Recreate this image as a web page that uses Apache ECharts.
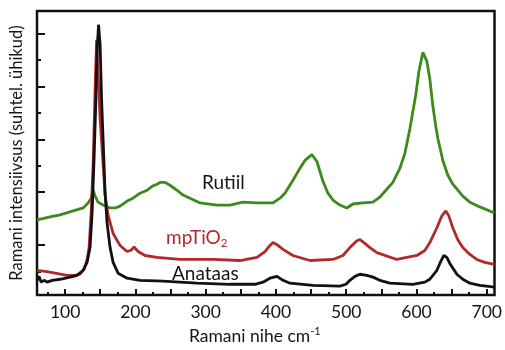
<!DOCTYPE html>
<html>
<head>
<meta charset="utf-8">
<script src="https://cdn.jsdelivr.net/npm/echarts@6/dist/echarts.min.js"></script>
<style>html,body{margin:0;padding:0;background:#fff}#c{width:505px;height:350px}</style>
</head>
<body>
<div id="c"></div>
<script>
// Ramani nihe (cm-1), intensity (relative units)
const anataas = [[60,0.66],[63,0.81],[65.9,0.59],[70.1,0.66],[74.4,0.59],[81.5,0.66],[92.9,0.70],[107.1,0.78],[117.1,0.85],[125.6,1.04],[131.3,1.34],[135.5,1.90],[138.4,3.21],[141.2,5.27],[143.4,7.15],[145.5,9.40],[147.6,10.34],[149.8,9.59],[151.9,7.52],[154,6.03],[156.9,3.96],[159.7,2.84],[164,1.90],[168.3,1.34],[175.4,0.93],[188.2,0.74],[206.6,0.66],[239.3,0.63],[287.7,0.55],[334.6,0.51],[370.2,0.51],[381.5,0.59],[391.5,0.74],[401.5,0.81],[410,0.66],[420,0.55],[452.6,0.47],[491,0.44],[499.6,0.51],[505.2,0.66],[512.4,0.81],[519.5,0.89],[529.4,0.85],[538,0.78],[547.9,0.66],[562.1,0.55],[594.8,0.51],[611.9,0.59],[619,0.70],[629,1.04],[634.6,1.38],[638.9,1.60],[643.2,1.53],[647.4,1.30],[657.4,0.89],[665.9,0.70],[675.9,0.55],[690.1,0.47],[711,0.40]];
const mpTiO2 = [[60,1.04],[71.6,1.00],[85.8,0.93],[102.8,0.85],[114.2,0.85],[121.3,0.89],[127,1.08],[131.3,1.45],[134.1,1.90],[137,3.21],[139.8,5.01],[142.7,7.90],[144.8,9.77],[146.9,8.39],[149.8,6.77],[152.6,5.65],[156.9,3.89],[161.1,3.14],[168.3,2.43],[178.2,1.98],[188.2,1.75],[193.9,1.80],[198.1,1.92],[203.8,1.75],[213.8,1.60],[230.8,1.53],[263.5,1.45],[310.4,1.45],[348.8,1.41],[373,1.53],[384.4,1.75],[391.5,1.98],[395.8,2.09],[401.5,2.01],[410,1.83],[424.2,1.60],[448.4,1.41],[481.1,1.45],[495.3,1.60],[505.2,1.90],[515.2,2.16],[519.5,2.20],[525.1,2.09],[533.7,1.90],[543.6,1.71],[572.1,1.45],[600.5,1.60],[611.9,1.79],[619,2.09],[629,2.65],[636.1,3.10],[641.7,3.29],[646,3.10],[651.6,2.65],[658.8,2.20],[665.9,1.90],[675.9,1.64],[685.8,1.45],[697.2,1.34],[711,1.26]];
const rutiil = [[60,2.95],[78.7,3.06],[92.9,3.14],[111.4,3.29],[125.6,3.40],[132.7,3.59],[137,3.77],[139.8,4.07],[142.7,3.85],[146.9,3.62],[154,3.51],[164,3.40],[171.1,3.40],[178.2,3.47],[188.2,3.66],[196.7,3.77],[206.6,3.96],[216.6,4.07],[223.7,4.22],[230.8,4.30],[235.1,4.37],[242.2,4.37],[249.3,4.26],[259.3,4.07],[267.8,3.89],[277.7,3.77],[292,3.59],[316.1,3.51],[334.6,3.51],[353.1,3.62],[373,3.59],[395.8,3.59],[405.7,3.77],[412.8,3.96],[424.2,4.45],[434.1,4.90],[441.3,5.20],[451.2,5.42],[458.3,5.16],[466.9,4.41],[474,3.96],[481.1,3.70],[491,3.51],[501,3.40],[509.5,3.55],[523.7,3.59],[537.9,3.62],[547.9,3.81],[556.4,4.07],[566.4,4.37],[576.3,4.90],[583.4,5.46],[590.6,6.40],[594.8,7.04],[599.1,7.71],[603.4,8.57],[609,9.29],[614.7,8.96],[619,8.28],[623.3,7.26],[627.5,6.48],[630.4,6.03],[637.5,5.20],[644.6,4.64],[651.7,4.30],[665.9,3.85],[675.9,3.62],[690.1,3.44],[711,3.21]];
const xLabels = [100,200,300,400,500,600,700];
const xMajorTicks = [100,150,200,250,300,350,400,450,500,550,600,650,700];
const xMinorTicks = [75,125,175,225,275,325,375,425,475,525,575,625,675];
const yMajorTicks = [2,4,6,8,10];
const yMinorTicks = [1,3,5,7,9];

const FONT = 'Lato';
const TXT = '#151515';
const chart = echarts.init(document.getElementById('c'), null, {renderer:'canvas'});
const tickStyle = {color:'#111', width:2};
chart.setOption({
  animation:false,
  backgroundColor:'#fff',
  grid:{left:37, right:10, top:11, bottom:52, show:true, borderColor:'#111', borderWidth:2.5, backgroundColor:'transparent'},
  xAxis:[{
    type:'value', min:60, max:711, position:'bottom',
    axisLine:{show:false}, splitLine:{show:false},
    axisTick:{show:true, inside:true, length:6, lineStyle:tickStyle, customValues:xMajorTicks},
    axisLabel:{show:true, customValues:xLabels, margin:8, fontFamily:FONT, fontSize:17.5, color:TXT},
    name:'{a|Ramani nihe cm}{b|-1}', nameLocation:'middle', nameGap:28,
    nameTextStyle:{padding:[0,22,0,0], rich:{
      a:{fontFamily:FONT, fontSize:17.5, color:TXT, lineHeight:20},
      b:{fontFamily:FONT, fontSize:11, color:TXT, verticalAlign:'top', lineHeight:12}
    }}
  },{
    type:'value', min:60, max:711, position:'bottom', offset:0,
    axisLine:{show:false}, splitLine:{show:false},
    axisTick:{show:true, inside:true, length:3, lineStyle:tickStyle, customValues:xMinorTicks},
    axisLabel:{show:false}
  }],
  yAxis:[{
    type:'value', min:0.1, max:10.86, position:'left',
    axisLine:{show:false}, splitLine:{show:false},
    axisTick:{show:true, inside:true, length:8, lineStyle:tickStyle, customValues:yMajorTicks},
    axisLabel:{show:false, customValues:yMajorTicks},
    name:'Ramani intensiivsus (suhtel. ühikud)', nameLocation:'middle', nameGap:12, nameRotate:90,
    nameTextStyle:{fontFamily:FONT, fontSize:16.5, color:TXT}
  },{
    type:'value', min:0.1, max:10.86, position:'left', offset:0,
    axisLine:{show:false}, splitLine:{show:false},
    axisTick:{show:true, inside:true, length:4, lineStyle:tickStyle, customValues:yMinorTicks},
    axisLabel:{show:false, customValues:yMinorTicks}
  }],
  series:[
    {name:'Rutiil', type:'line', data:rutiil, showSymbol:false, lineStyle:{color:'#3a8b1c', width:2.8}, itemStyle:{color:'#3a8b1c'}, z:2},
    {name:'mpTiO2', type:'line', data:mpTiO2, showSymbol:false, lineStyle:{color:'#b02a2a', width:2.8}, itemStyle:{color:'#b02a2a'}, z:3},
    {name:'Anataas', type:'line', data:anataas, showSymbol:false, lineStyle:{color:'#111', width:2.8}, itemStyle:{color:'#111'}, z:4}
  ],
  graphic:[
    {type:'text', left:202, top:173, style:{text:'Rutiil', fontFamily:FONT, fontSize:19, fill:TXT}},
    {type:'text', left:166, top:228, style:{text:'{a|mpTiO}{s|2}', rich:{
      a:{fontFamily:FONT, fontSize:19, fill:'#b02a2a', color:'#b02a2a', lineHeight:22},
      s:{fontFamily:FONT, fontSize:11.5, fill:'#b02a2a', color:'#b02a2a', verticalAlign:'top', padding:[11,0,0,0]}
    }}},
    {type:'text', left:172, top:264, style:{text:'Anataas', fontFamily:FONT, fontSize:19, fill:TXT}}
  ]
});
</script>
</body>
</html>
